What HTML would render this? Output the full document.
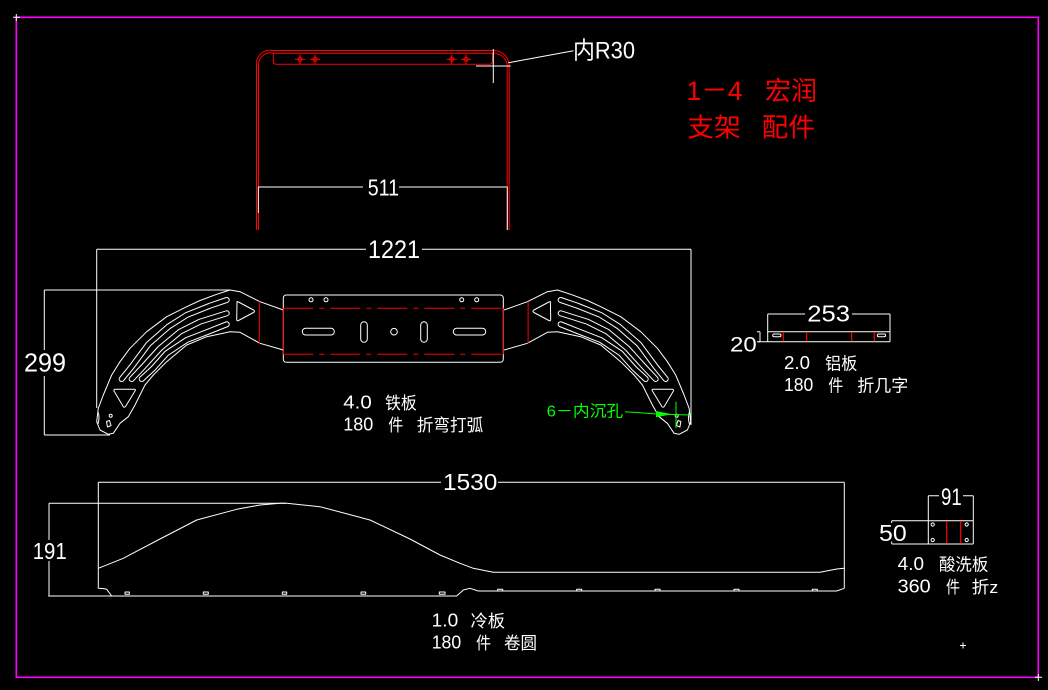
<!DOCTYPE html>
<html><head><meta charset="utf-8"><style>
html,body{margin:0;padding:0;background:#000;}
svg{display:block;}
text{font-family:"Liberation Sans","Noto Sans CJK SC",sans-serif;}
</style></head><body>
<svg width="1048" height="690" viewBox="0 0 1048 690" xmlns="http://www.w3.org/2000/svg">
<rect width="1048" height="690" fill="#000"/>
<!-- frame -->
<rect x="16.3" y="17.3" width="1022" height="660" fill="none" stroke="#ff00ff" stroke-width="1.6"/>
<g stroke="#fff" stroke-width="1"><path d="M13,17.3H20M16.3,14V21"/><path d="M1035,677.3H1042M1038.3,674V681"/><path d="M960,645.5H966M963,642.5V648.5"/></g>

<!-- ===== top bracket ===== -->
<g fill="none" stroke="#ff0000" stroke-width="1">
<path d="M256.5,230V64A13.5,13.5 0 0 1 273,50.5H493A16,16 0 0 1 509.2,64V230"/>
<path d="M258.5,230V65A11.8,11.8 0 0 1 273,53.2H492.5A14,14 0 0 1 507.2,65V230"/>
<path d="M273.3,53.2V61.5Q273.5,64.2 276,64.2H490Q492.5,64 492.5,61V53.2"/>
<g><circle cx="300" cy="59.3" r="2"/><path d="M295,59.3H305M300,54.5V64"/>
<circle cx="315" cy="59.3" r="2"/><path d="M310,59.3H320M315,54.5V64"/>
<circle cx="451.7" cy="59.3" r="2"/><path d="M446.7,59.3H456.7M451.7,54.5V64"/>
<circle cx="466" cy="59.3" r="2"/><path d="M461,59.3H471M466,54.5V64"/></g>
</g>
<g fill="none" stroke="#fff" stroke-width="1">
<path d="M493.3,49V83M476,66H510.7"/>
<path d="M508.3,62.7L573.5,50.7"/>
<path d="M258.3,186.7V213M507.3,186.7V230"/>
<path d="M258.3,187H363M399,187H507.3"/>
</g>
<text x="367.7" y="195.7" font-size="23" fill="#fff" textLength="31.3" lengthAdjust="spacingAndGlyphs">511</text>
<text x="573" y="58.3" font-size="24" fill="#fff" textLength="62" lengthAdjust="spacingAndGlyphs">内R30</text>

<!-- red title -->
<text x="686.5" y="100" font-size="27" fill="#ff0000" textLength="56" lengthAdjust="spacingAndGlyphs">1－4</text>
<text x="765" y="100" font-size="26" fill="#ff0000" textLength="52" lengthAdjust="spacingAndGlyphs">宏润</text>
<text x="687.3" y="136.5" font-size="26" fill="#ff0000" textLength="53.4" lengthAdjust="spacingAndGlyphs">支架</text>
<text x="761.7" y="136.5" font-size="26" fill="#ff0000" textLength="53.3" lengthAdjust="spacingAndGlyphs">配件</text>

<!-- ===== 1221 part ===== -->
<defs>
<g id="wing">
<g fill="none" stroke="#fff" stroke-width="1" stroke-linejoin="round">
<path d="M283.3,310L260,301.7L240,291.7L230,290L216.7,294.3L200,300.5L186.7,306.7L166.7,316.7L146.7,331.7L130,348.3L120,361.7L111.7,375L103.3,395L98.3,408.3L96.7,421.7L100,430L108.3,434.3L113.3,433.3L120,423.3L128.3,416.7L135,405L145,385L153.3,375L166.7,361.7L186.7,345L206.7,336.7L230,331.7L240,332.3L260,343.3L283.3,350"/>
<path d="M237,302.5Q236.5,301 238.5,302L253.5,310Q255.5,311.3 253.5,312.5L238.5,320.5Q236.7,321.5 236.7,319.5Z"/>
<path d="M115.5,389.3H134.5Q136,389.5 135,391L125.5,406.5Q124.3,408 123.2,406.5L114,391Q113.5,389.3 115.5,389.3Z"/>
<circle cx="110.7" cy="415.7" r="1.5"/>
<path d="M106.5,421.5L109.5,420.5L111,425.5L107.5,427Z"/>
<path d="M98,412Q100,417 98,424"/>
</g>
<g fill="none" stroke-linecap="round" stroke-linejoin="round">
<path id="s1" d="M121.7,379L131.7,366.7L148.3,344.3L168.3,326.7L186.7,315L210,305.7L226.7,300" stroke="#fff" stroke-width="6"/>
<path d="M121.7,379L131.7,366.7L148.3,344.3L168.3,326.7L186.7,315L210,305.7L226.7,300" stroke="#000" stroke-width="4"/>
<path d="M131.7,379L143.3,366.7L160,348.3L180,331.7L200,321.7L226.7,313.3" stroke="#fff" stroke-width="6"/>
<path d="M131.7,379L143.3,366.7L160,348.3L180,331.7L200,321.7L226.7,313.3" stroke="#000" stroke-width="4"/>
<path d="M141.7,379L153.3,368.3L166.7,353.3L186.7,340L206.7,332.3L226.7,324.3" stroke="#fff" stroke-width="6"/>
<path d="M141.7,379L153.3,368.3L166.7,353.3L186.7,340L206.7,332.3L226.7,324.3" stroke="#000" stroke-width="4"/>
</g>
<path d="M259.3,301.5V343.5" stroke="#ff0000" stroke-width="1"/>
</g>
</defs>
<use href="#wing"/>
<use href="#wing" transform="translate(787.4,0) scale(-1,1)"/>

<!-- plate -->
<g fill="none" stroke="#fff" stroke-width="1">
<rect x="283.3" y="295" width="220" height="67.3" rx="3"/>
<rect x="302.3" y="328.3" width="32" height="6.7" rx="3.3"/>
<rect x="453.3" y="328.3" width="32.4" height="6.7" rx="3.3"/>
<rect x="360.7" y="321.7" width="6.6" height="20.6" rx="3.3"/>
<rect x="420.7" y="321.7" width="6.6" height="20.6" rx="3.3"/>
<circle cx="394" cy="331.7" r="3.3"/>
<circle cx="311" cy="299.8" r="2"/><circle cx="326" cy="299.8" r="2"/>
<circle cx="461.7" cy="299.8" r="2"/><circle cx="476.7" cy="299.8" r="2"/>
</g>
<g stroke="#ff0000" stroke-width="1" fill="none">
<path d="M283.3,308.3H503.3M283.3,354.3H503.3" stroke-dasharray="30 6 5 6"/>
<path d="M283.3,308.3V354.3M503.3,308.3V354.3"/>
</g>
<!-- dims 1221 / 299 -->
<g fill="none" stroke="#fff" stroke-width="1">
<path d="M96.7,249.3V408M691,249.3V425"/>
<path d="M96.7,249.3H366M422,249.3H691"/>
<path d="M44.3,290H230M44.3,435H110"/>
<path d="M44.3,290V350M44.3,376V435"/>
</g>
<text x="368" y="258" font-size="25" fill="#fff" textLength="52" lengthAdjust="spacingAndGlyphs">1221</text>
<text x="24" y="371.7" font-size="26" fill="#fff" textLength="42" lengthAdjust="spacingAndGlyphs">299</text>
<!-- green annotation -->
<g stroke="#00ff00" stroke-width="1" fill="none">
<path d="M625,411.7L656.7,414"/>
<path d="M656.7,414L690,415"/>
<path d="M676,401.7V428.3"/>
</g>
<polygon points="656,411 672,414.3 656,417.3" fill="#00ff00"/>
<text x="546.7" y="416.5" font-size="16" fill="#00ff00" textLength="76.5" lengthAdjust="spacingAndGlyphs">6－内沉孔</text>
<g fill="#fff" font-size="17">
<text x="343.3" y="408.3" textLength="28.4" lengthAdjust="spacingAndGlyphs" font-size="18">4.0</text>
<text x="385" y="408.8" textLength="31.7" lengthAdjust="spacingAndGlyphs">铁板</text>
<text x="343.3" y="430.7" textLength="30" lengthAdjust="spacingAndGlyphs" font-size="18">180</text>
<text x="388.3" y="431.2" textLength="15" lengthAdjust="spacingAndGlyphs">件</text>
<text x="416.7" y="431.2" textLength="66.6" lengthAdjust="spacingAndGlyphs">折弯打弧</text>
</g>

<!-- ===== 253 part ===== -->
<g fill="none" stroke="#fff" stroke-width="1">
<path d="M767.7,314V341.7M890,314V341.7"/>
<path d="M767.7,314H805M852,314H890"/>
<path d="M767.7,331.7H890M758,341.7H890M760,331.7V341.7"/>
<path d="M757,331.7H760M757,341.7H760"/>
<rect x="772.7" y="334" width="8.3" height="2.8" rx="1.4"/>
<rect x="877.3" y="334" width="8.3" height="2.8" rx="1.4"/>
</g>
<g stroke="#ff0000" stroke-width="1.2"><path d="M783.3,332V341.5M806.7,332V341.5M851.7,332V341.5M874.3,332V341.5"/></g>
<text x="807.3" y="321.7" font-size="23" fill="#fff" textLength="42.7" lengthAdjust="spacingAndGlyphs">253</text>
<text x="730" y="351.7" font-size="21" fill="#fff" textLength="26.7" lengthAdjust="spacingAndGlyphs">20</text>
<g fill="#fff" font-size="17">
<text x="784" y="369" textLength="26" lengthAdjust="spacingAndGlyphs" font-size="18">2.0</text>
<text x="825" y="369.5" textLength="32.3" lengthAdjust="spacingAndGlyphs">铝板</text>
<text x="784" y="391" textLength="29.3" lengthAdjust="spacingAndGlyphs" font-size="18">180</text>
<text x="828.3" y="391.5" textLength="15" lengthAdjust="spacingAndGlyphs">件</text>
<text x="857.3" y="391.5" textLength="51" lengthAdjust="spacingAndGlyphs">折几字</text>
</g>

<!-- ===== 1530 part ===== -->
<g fill="none" stroke="#fff" stroke-width="1" stroke-linejoin="round">
<path d="M98.3,482.3V588.3Q104,588.5 106.7,589.3L111.7,596"/>
<path d="M844.3,482.3V588.3"/>
<path d="M98.3,482.3H441M498,482.3H844.3"/>
<path d="M48.3,596H456.7L463.3,590L470,588.3L478.3,591H836.7L844.3,588.3"/>
<path d="M98.3,568.3L123.3,558.3L160,539L196.7,520L236.7,509.3L260,505L280,503.3L286.7,503.3L320,506.7L370,520L410,539L440,555L460,563.3L473.3,568.3L493.3,572.3H820L836.7,569L844.3,568.3"/>
<path d="M49,503.3H286M49,503.3V540M49,561V596"/>
<g>
<rect x="125" y="592" width="4.3" height="2.3"/>
<rect x="203.3" y="592" width="5" height="2.3"/>
<rect x="282.3" y="592" width="4.4" height="2.3"/>
<rect x="361" y="592" width="4.7" height="2.3"/>
<rect x="439.3" y="592" width="5.7" height="2.3"/>
<rect x="497.7" y="589.3" width="5" height="1.7"/>
<rect x="576.7" y="589.3" width="5" height="1.7"/>
<rect x="655" y="589.3" width="5" height="1.7"/>
<rect x="734" y="589.3" width="5" height="1.7"/>
<rect x="812.3" y="589.3" width="5" height="1.7"/>
</g>
</g>
<text x="443" y="490" font-size="23" fill="#fff" textLength="54.3" lengthAdjust="spacingAndGlyphs">1530</text>
<text x="32.7" y="559" font-size="23" fill="#fff" textLength="34" lengthAdjust="spacingAndGlyphs">191</text>
<g fill="#fff" font-size="17">
<text x="431.7" y="626.7" textLength="26.5" lengthAdjust="spacingAndGlyphs" font-size="18">1.0</text>
<text x="470.5" y="627.2" textLength="34.5" lengthAdjust="spacingAndGlyphs">冷板</text>
<text x="431.7" y="648.5" textLength="29.5" lengthAdjust="spacingAndGlyphs" font-size="18">180</text>
<text x="476" y="649" textLength="15" lengthAdjust="spacingAndGlyphs">件</text>
<text x="504" y="649" textLength="33" lengthAdjust="spacingAndGlyphs">卷圆</text>
</g>

<!-- ===== 91 / 50 part ===== -->
<g fill="none" stroke="#fff" stroke-width="1">
<path d="M928.3,495.7V544M973.3,495.7V544"/>
<path d="M928.3,495.7H939M963,495.7H973.3"/>
<path d="M891.7,520.7H973.3M891.7,544H973.3"/>
<path d="M891.7,520.7V523M891.7,541.5V544"/>
<circle cx="932.7" cy="524.5" r="1.6"/><circle cx="932.7" cy="540" r="1.6"/>
<circle cx="966.7" cy="524.5" r="1.6"/><circle cx="966.7" cy="540" r="1.6"/>
</g>
<g stroke="#ff0000" stroke-width="1.2"><path d="M946.7,521V543.7M960.7,521V543.7"/></g>
<text x="941" y="505" font-size="24" fill="#fff" textLength="20.7" lengthAdjust="spacingAndGlyphs">91</text>
<text x="879" y="541" font-size="23" fill="#fff" textLength="27.7" lengthAdjust="spacingAndGlyphs">50</text>
<g fill="#fff" font-size="17">
<text x="897.7" y="570" textLength="26.3" lengthAdjust="spacingAndGlyphs" font-size="18">4.0</text>
<text x="939" y="570.5" textLength="49.3" lengthAdjust="spacingAndGlyphs">酸洗板</text>
<text x="897.7" y="592.3" textLength="33" lengthAdjust="spacingAndGlyphs" font-size="18">360</text>
<text x="946" y="592.8" textLength="14" lengthAdjust="spacingAndGlyphs">件</text>
<text x="971.7" y="592.8" textLength="26.6" lengthAdjust="spacingAndGlyphs">折z</text>
</g>
</svg>
</body></html>
